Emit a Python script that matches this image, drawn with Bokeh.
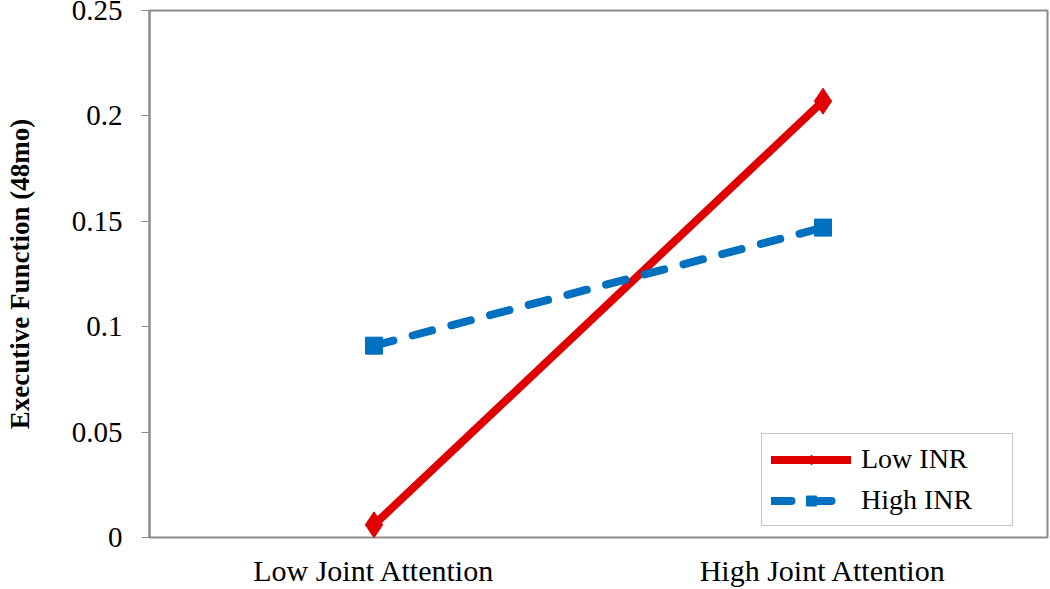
from bokeh.plotting import figure
from bokeh.models import Legend, LegendItem, Range1d, FactorRange
from bokeh.embed import file_html
from bokeh.resources import INLINE

categories = ["Low Joint Attention", "High Joint Attention"]
low_inr = [0.006, 0.207]
high_inr = [0.091, 0.147]
y_ticks = [0, 0.05, 0.1, 0.15, 0.2, 0.25]
y_tick_labels = {0: "0", 0.05: "0.05", 0.1: "0.1", 0.15: "0.15", 0.2: "0.2", 0.25: "0.25"}

FONT = "Liberation Serif"

p = figure(x_range=FactorRange(*categories, range_padding=0), y_range=Range1d(0, 0.25),
           frame_width=898, frame_height=527, width=1050, height=589,
           min_border_left=149, min_border_right=3, min_border_top=10, min_border_bottom=52,
           output_backend="svg", toolbar_location=None)

p.xgrid.visible = False
p.ygrid.visible = False
p.outline_line_color = "#8c8c8c"
p.outline_line_width = 2
p.background_fill_color = "white"
p.border_fill_color = "white"

p.yaxis.ticker = y_ticks
p.yaxis.major_label_overrides = y_tick_labels
p.yaxis.axis_line_color = "#8c8c8c"
p.yaxis.axis_line_width = 2
p.yaxis.major_tick_line_color = "#8c8c8c"
p.yaxis.major_tick_line_width = 1
p.yaxis.major_tick_in = 0
p.yaxis.major_tick_out = 8
p.yaxis.minor_tick_line_color = None
p.yaxis.major_label_text_font = FONT
p.yaxis.major_label_text_font_size = "29px"
p.yaxis.major_label_text_color = "black"
p.yaxis.major_label_standoff = 19
p.yaxis.axis_label = "Executive Function (48mo)"
p.yaxis.axis_label_text_font = FONT
p.yaxis.axis_label_text_font_style = "bold"
p.yaxis.axis_label_text_font_size = "27px"
p.yaxis.axis_label_text_color = "black"
p.yaxis.axis_label_standoff = 34

p.xaxis.axis_line_color = None
p.xaxis.major_tick_line_color = None
p.xaxis.minor_tick_line_color = None
p.xaxis.major_label_text_font = FONT
p.xaxis.major_label_text_font_size = "30px"
p.xaxis.major_label_text_color = "black"
p.xaxis.major_label_standoff = 10

red = "#e00000"
blue = "#0070c0"

l1 = p.line(categories, low_inr, line_color=red, line_width=8, line_cap="round")
s1 = p.scatter(categories, low_inr, marker="diamond", size=26, color=red)
l2 = p.line(categories, high_inr, line_color=blue, line_width=8, line_dash="20 20", line_cap="round")
s2 = p.scatter(categories, high_inr, marker="square", size=17, color=blue)

legend = Legend(items=[LegendItem(label="Low INR", renderers=[l1, s1]),
                       LegendItem(label="High INR", renderers=[l2, s2])],
                location=(612, 11))
legend.label_text_font = FONT
legend.label_text_font_size = "28px"
legend.label_text_color = "black"
legend.glyph_width = 80
legend.glyph_height = 25
legend.label_height = 25
legend.spacing = 9
legend.padding = 9
legend.margin = 0
legend.label_standoff = 10
legend.label_width = 142
legend.border_line_color = "#8c8c8c"
legend.border_line_width = 1
legend.background_fill_alpha = 1
p.add_layout(legend, "center")

open("out.html", "w").write(file_html(p, INLINE))
